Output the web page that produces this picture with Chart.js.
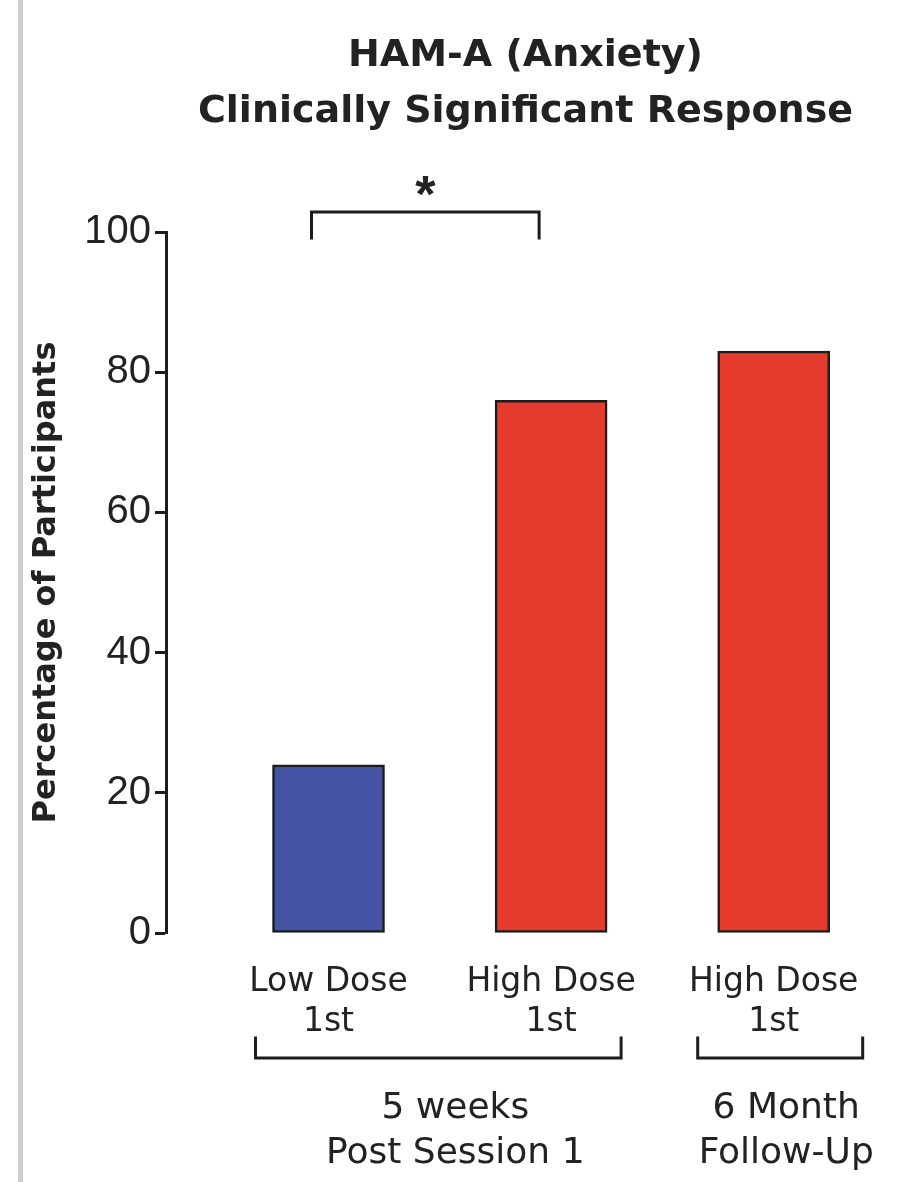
<!DOCTYPE html>
<html lang="en">
<head>
  <meta charset="UTF-8">
  <title>HAM-A (Anxiety) Clinically Significant Response</title>
  <script src="https://cdn.jsdelivr.net/npm/chart.js"></script>
  <style>
    body { margin: 0; background: #fff; }
    .wrap { position: relative; width: 897px; height: 1182px; }
    .edge { position: absolute; left: 18px; top: 0; width: 5px; height: 1182px; background: #cfcfcf; }
    canvas { position: absolute; left: 0; top: 0; }
  </style>
</head>
<body>
  <div class="wrap">
    <div class="edge"></div>
    <canvas id="hamChart" width="897" height="1182"></canvas>
  </div>
<script>
  const titleLines = ['HAM-A (Anxiety)', 'Clinically Significant Response'];
  const categories = [['Low Dose', '1st'], ['High Dose', '1st'], ['High Dose', '1st']];
  const responders = [24, 76, 83];
  const barColors = ['#4454a4', '#e53b2d', '#e53b2d'];
  const yTicks = [0, 20, 40, 60, 80, 100];
  const yTitle = 'Percentage of Participants';
  const groupLabels = [['5 weeks', 'Post Session 1'], ['6 Month', 'Follow-Up']];
  const groupSpans = [[1, 2], [3, 3]];
  const sigPair = [1, 2];
  const sigMark = '*';

  const ink = '#1c1c1c';
  const textColor = '#222';

  // brackets, asterisk, title and group captions
  const annotations = {
    id: 'annotations',
    afterDraw(chart) {
      const { ctx, chartArea, scales: { x } } = chart;
      ctx.save();
      ctx.fillStyle = textColor;
      ctx.strokeStyle = ink;
      ctx.lineWidth = 3;
      ctx.lineCap = 'square';
      ctx.textAlign = 'center';
      ctx.textBaseline = 'alphabetic';

      const mid = (chartArea.left + chartArea.right) / 2;
      ctx.font = 'bold 38px "DejaVu Sans"';
      titleLines.forEach((t, i) => ctx.fillText(t, mid, 66 + i * 56));

      // significance bracket
      const sx1 = x.getPixelForValue(sigPair[0]) - 17;
      const sx2 = x.getPixelForValue(sigPair[1]) - 12;
      const sy = chartArea.top - 20;
      ctx.beginPath();
      ctx.moveTo(sx1, chartArea.top + 6);
      ctx.lineTo(sx1, sy);
      ctx.lineTo(sx2, sy);
      ctx.lineTo(sx2, chartArea.top + 6);
      ctx.stroke();
      ctx.font = 'bold 52px "Liberation Sans"';
      ctx.fillText(sigMark, (sx1 + sx2) / 2, sy);

      // group brackets under the category labels
      const pads = [[-73, 70], [-76, 89]];
      const shifts = [17, 6];
      const by = chartArea.bottom + 125;
      ctx.font = '36px "DejaVu Sans"';
      groupSpans.forEach((span, i) => {
        const gx1 = x.getPixelForValue(span[0]) + pads[i][0];
        const gx2 = x.getPixelForValue(span[1]) + pads[i][1];
        ctx.beginPath();
        ctx.moveTo(gx1, by - 20);
        ctx.lineTo(gx1, by);
        ctx.lineTo(gx2, by);
        ctx.lineTo(gx2, by - 20);
        ctx.stroke();
        const cx = (gx1 + gx2) / 2 + shifts[i];
        groupLabels[i].forEach((t, j) => ctx.fillText(t, cx, by + 60 + j * 45));
      });
      ctx.restore();
    }
  };

  new Chart(document.getElementById('hamChart'), {
    type: 'bar',
    data: {
      datasets: [{
        data: categories.map((c, i) => ({ x: i + 1, y: responders[i] })),
        backgroundColor: barColors,
        borderColor: ink,
        borderWidth: 2.5,
        borderSkipped: false,
        barThickness: 112
      }]
    },
    options: {
      responsive: false,
      animation: false,
      layout: { padding: { top: 232, right: 12, bottom: 0, left: 0 } },
      plugins: {
        legend: { display: false },
        tooltip: { enabled: false }
      },
      scales: {
        x: {
          type: 'linear',
          min: 0.27,
          max: 3.5,
          offset: false,
          afterBuildTicks: s => { s.ticks = categories.map((c, i) => ({ value: i + 1 })); },
          afterFit: s => { s.height = 249; },
          border: { display: false },
          grid: { display: false, drawTicks: false, offset: false },
          ticks: {
            autoSkip: false,
            maxRotation: 0,
            padding: 30,
            color: textColor,
            font: { family: 'DejaVu Sans', size: 33, lineHeight: 1.2 },
            callback: (v, i) => categories[i]
          }
        },
        y: {
          min: 0,
          max: 100,
          afterBuildTicks: s => { s.ticks = yTicks.map(v => ({ value: v })); },
          afterFit: s => { s.width = 166; },
          border: { display: true, color: ink, width: 3 },
          grid: { drawOnChartArea: false, drawTicks: true, tickLength: 11, tickWidth: 3, tickColor: ink },
          ticks: {
            padding: 4,
            color: textColor,
            font: { family: 'Liberation Sans', size: 40 }
          },
          title: {
            display: true,
            text: yTitle,
            color: textColor,
            padding: { top: 31, bottom: 0 },
            font: { family: 'DejaVu Sans', size: 32, weight: 'bold', lineHeight: 1 }
          }
        }
      }
    },
    plugins: [annotations]
  });
</script>
</body>
</html>
